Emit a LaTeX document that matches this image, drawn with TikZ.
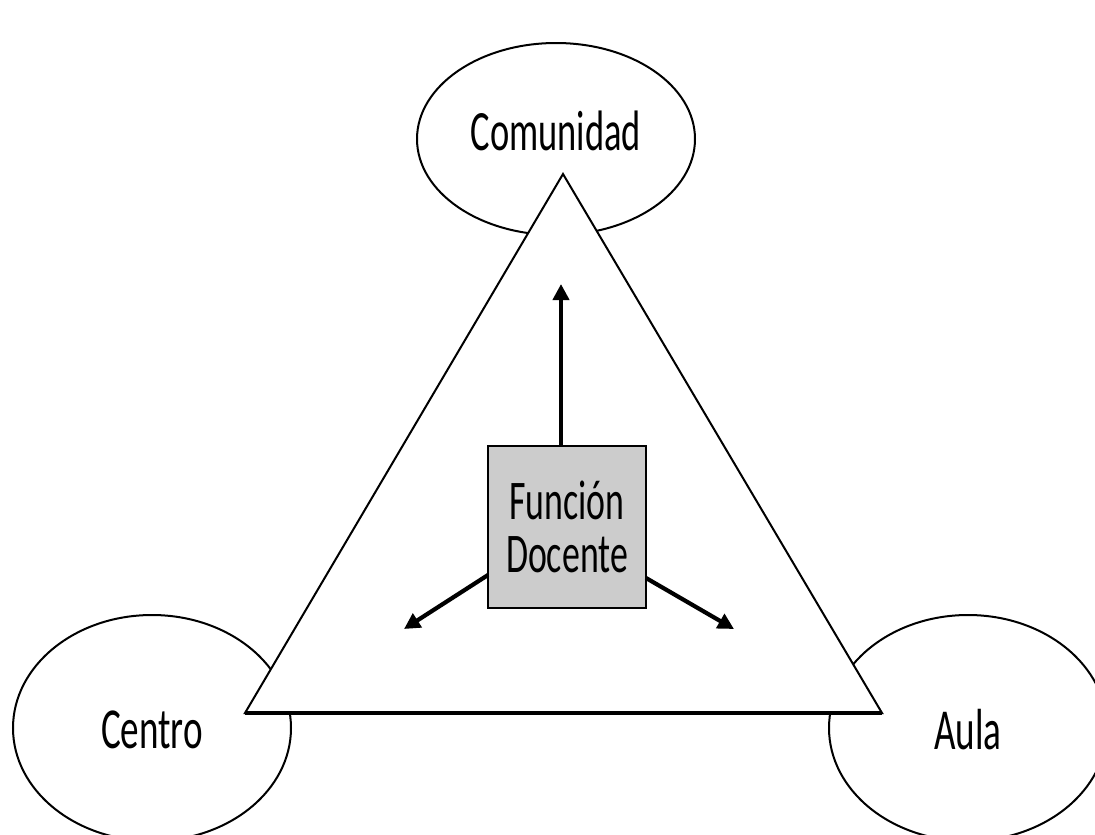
\documentclass[tikz,border=0pt]{standalone}
\usepackage{fontspec}
\newfontfamily\lblfont[FakeStretch=0.64]{Carlito}
\usetikzlibrary{shapes.geometric,arrows.meta}
\tikzset{
  circ/.style={ellipse, draw=black, line width=2pt, fill=white, inner sep=0pt},
  lbl/.style={font=\lblfont\fontsize{58}{60}\selectfont, inner sep=0pt},
  tri/.style={draw=black, line width=2pt, fill=white, line join=miter},
  base/.style={draw=black, line width=3.6pt},
  fbox/.style={rectangle, draw=black, line width=2.6pt, fill=black!20, align=center, inner sep=0pt,
     minimum width=158pt, minimum height=162pt, font=\lblfont\fontsize{56}{53}\selectfont},
  arr/.style={line width=4.2pt, -{Triangle[length=16pt,width=16pt]}}
}
\begin{document}
\begin{tikzpicture}[x=1pt,y=-1pt]
\useasboundingbox (0,0) rectangle (1095,835);
\node[circ, minimum width=278pt, minimum height=192pt] (com) at (556,139) {};
\node[circ, minimum width=278pt, minimum height=226pt] (cen) at (152,728) {};
\node[circ, minimum width=278pt, minimum height=226pt] (aul) at (968,728) {};
\coordinate (apex) at (563,174);
\coordinate (bl) at (245,713);
\coordinate (br) at (882,713);
\draw[tri] (apex) -- (bl) -- (br) -- cycle;
\draw[base] (bl) -- (br);
\node[lbl, font=\lblfont\fontsize{57}{60}\selectfont] (comtxt) at (556,131) {Comunidad};
\node[lbl] (centxt) at (152,730) {Centro};
\node[lbl] (aultxt) at (968,730) {Aula};
\node[fbox] (fd) at (567,527) {Función\\Docente};
\coordinate (up) at (561,284);
\coordinate (lt) at (404,629);
\coordinate (rt) at (734,629);
\draw[arr] (fd.north -| up) -- (up);
\draw[arr] (488,575) -- (lt);
\draw[arr] (646,578) -- (rt);
\end{tikzpicture}
\end{document}
